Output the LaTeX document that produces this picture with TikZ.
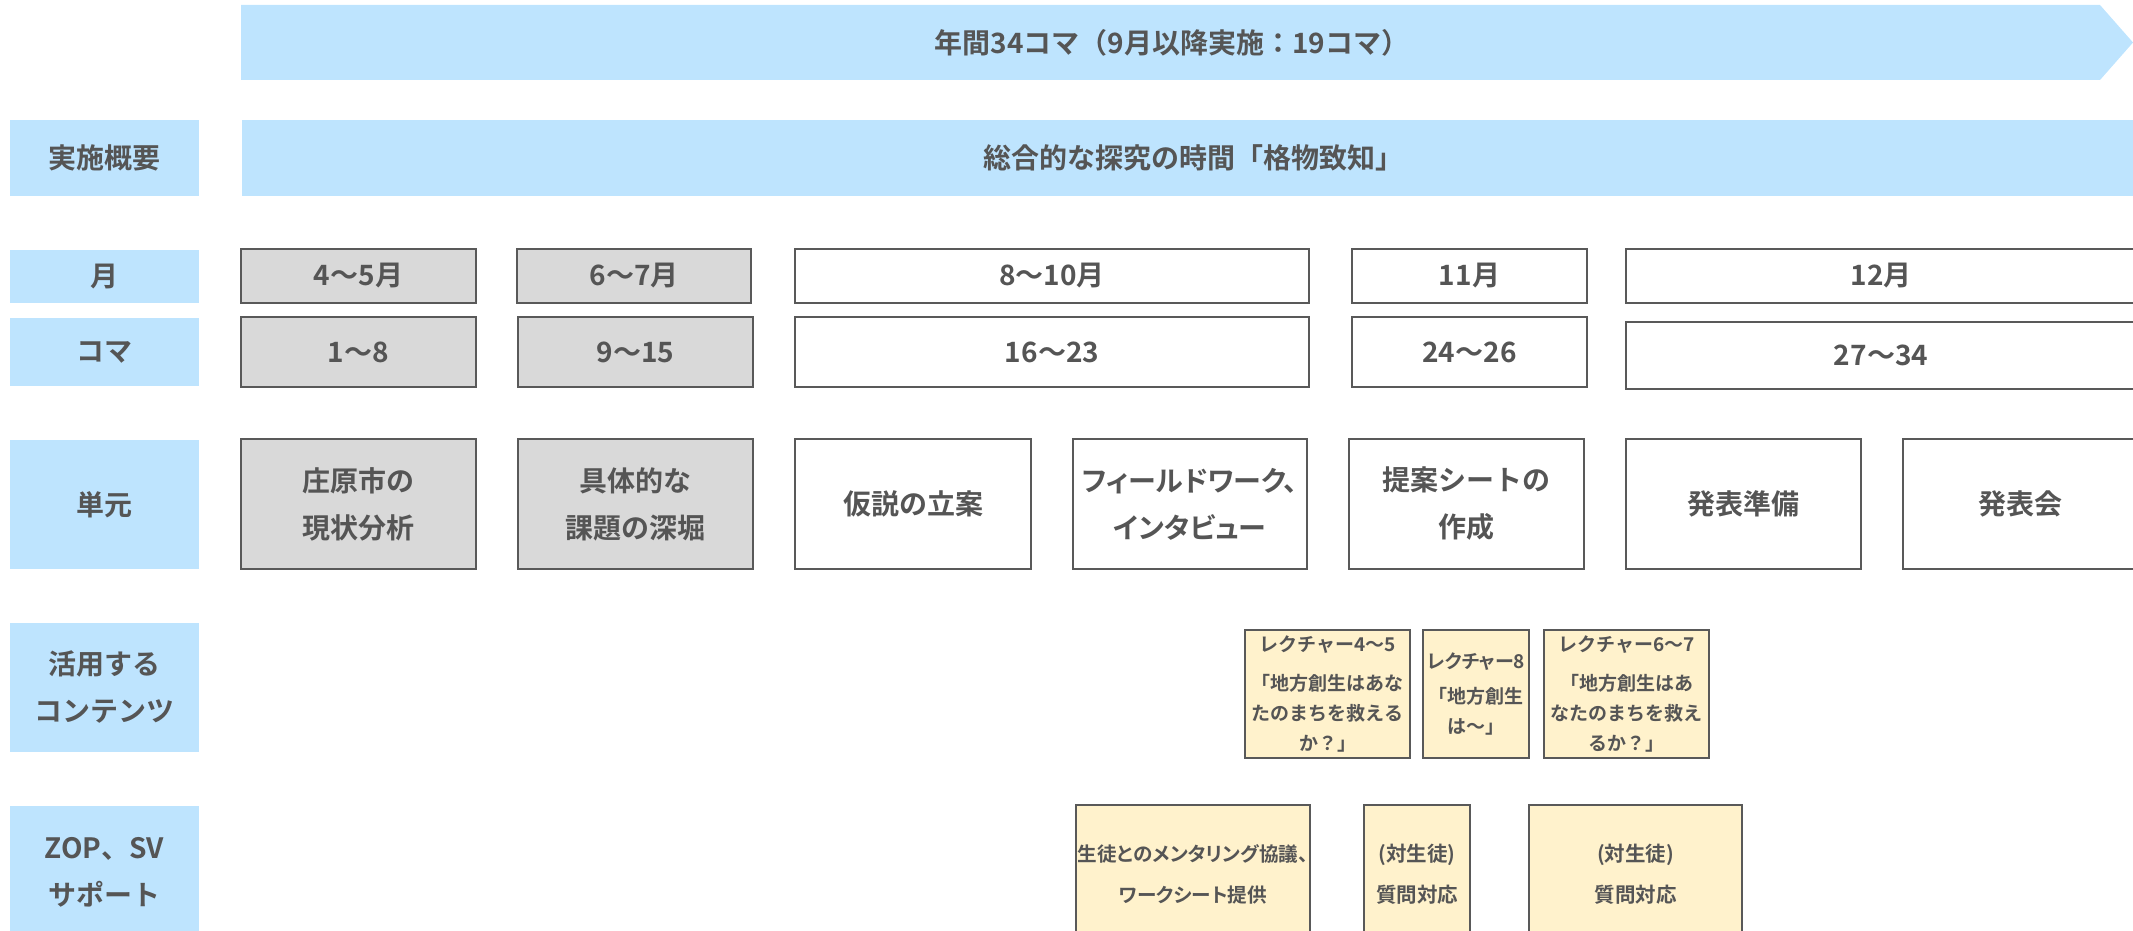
\documentclass[tikz,border=0pt]{standalone}
\usepackage{fontspec}
\setmainfont{Noto Sans CJK JP}[BoldFont={Noto Sans CJK JP Bold}]
\definecolor{lblue}{RGB}{190,228,254}
\definecolor{gfill}{RGB}{217,217,217}
\definecolor{cream}{RGB}{255,242,204}
\definecolor{bord}{RGB}{89,89,89}
\definecolor{txt}{RGB}{85,85,85}
\newcommand\bx[7]{\node[#6, minimum width={#4-#2}, minimum height={#5-#3}] (#1) at ({(#2+#4)/2},{(#3+#5)/2}) {#7};}
\newcommand\prop{\addfontfeature{RawFeature=+palt}}
\begin{document}
\begin{tikzpicture}[x=1pt,y=-1pt,
  every node/.style={inner sep=0pt, text=txt, font=\bfseries},
  lab/.style={fill=lblue},
  gbox/.style={draw=bord, line width=2.5pt, fill=gfill},
  wbox/.style={draw=bord, line width=2.5pt, fill=white},
  cbox/.style={draw=bord, line width=2.5pt, fill=cream},
  big/.style={font=\bfseries\fontsize{28}{47}\selectfont, align=center},
  bigp/.style={font=\bfseries\prop\fontsize{28}{47}\selectfont, align=center},
  small/.style={font=\bfseries\fontsize{19}{30}\selectfont, align=center},
  tiny/.style={font=\bfseries\prop\fontsize{20.5}{41}\selectfont, align=center},
  tinyz/.style={font=\bfseries\prop\fontsize{19.6}{41}\selectfont, align=center}]
\useasboundingbox (0,0) rectangle (2133,931);
% top arrow
\fill[lblue] (241,5) -- (2100,5) -- (2133,42.5) -- (2100,80) -- (241,80) -- cycle;
\node[big] (year) at (1172,42.5) {年間34コマ（9月以降実施：19コマ）};
% overview
\bx{lover}{10}{120}{199}{196}{lab,big}{実施概要}
\bx{sogo}{242}{120}{2145}{196}{lab,big}{総合的な探究の時間「格物致知」}
% months
\bx{lmon}{10}{250}{199}{303}{lab,big}{月}
\bx{m1}{241}{249}{476}{303}{gbox,big}{4～5月}
\bx{m2}{517}{249}{751}{303}{gbox,big}{6～7月}
\bx{m3}{795}{249}{1309}{303}{wbox,big}{8～10月}
\bx{m4}{1352}{249}{1587}{303}{wbox,big}{11月}
\bx{m5}{1626}{249}{2136}{303}{wbox,big}{12月}
% koma
\bx{lkoma}{10}{318}{199}{386}{lab,big}{コマ}
\bx{k1}{241}{317}{476}{387}{gbox,big}{1～8}
\bx{k2}{518}{317}{753}{387}{gbox,big}{9～15}
\bx{k3}{795}{317}{1309}{387}{wbox,big}{16～23}
\bx{k4}{1352}{317}{1587}{387}{wbox,big}{24～26}
\bx{k5}{1626}{322}{2136}{389}{wbox,big}{27～34}
% units
\bx{lunit}{10}{440}{199}{569}{lab,big}{単元}
\bx{u1}{241}{439}{476}{569}{gbox,big}{庄原市の\\現状分析}
\bx{u2}{518}{439}{753}{569}{gbox,big}{具体的な\\課題の深堀}
\bx{u3}{795}{439}{1031}{569}{wbox,big}{仮説の立案}
\bx{u4}{1073}{439}{1307}{569}{wbox,bigp}{フィールドワーク、\\インタビュー}
\bx{u5}{1349}{439}{1584}{569}{wbox,big}{提案シートの\\作成}
\bx{u6}{1626}{439}{1861}{569}{wbox,big}{発表準備}
\bx{u7}{1903}{439}{2138}{569}{wbox,big}{発表会}
% contents
\bx{lcont}{10}{623}{199}{752}{lab,big}{活用する\\コンテンツ}
\bx{lec1}{1245}{630}{1410}{758}{cbox,small}{レクチャー4～5\\[9pt]「地方創生はあな\\たのまちを救える\\か？」}
\bx{lec2}{1423}{630}{1529}{758}{cbox,small}{{\prop レクチャー8}\\[5pt]「地方創生\\は～」}
\bx{lec3}{1544}{630}{1709}{758}{cbox,small}{レクチャー6～7\\[9pt]「地方創生はあ\\なたのまちを救え\\るか？」}
% support
\bx{lzop}{10}{806}{199}{939}{lab,big}{ZOP、SV\\サポート}
\bx{z1}{1076}{805}{1310}{944}{cbox,tinyz}{生徒とのメンタリング協議、\\ワークシート提供}
\bx{z2}{1364}{805}{1470}{944}{cbox,tiny}{(対生徒)\\質問対応}
\bx{z3}{1529}{805}{1742}{944}{cbox,tiny}{(対生徒)\\質問対応}
\end{tikzpicture}
\end{document}
